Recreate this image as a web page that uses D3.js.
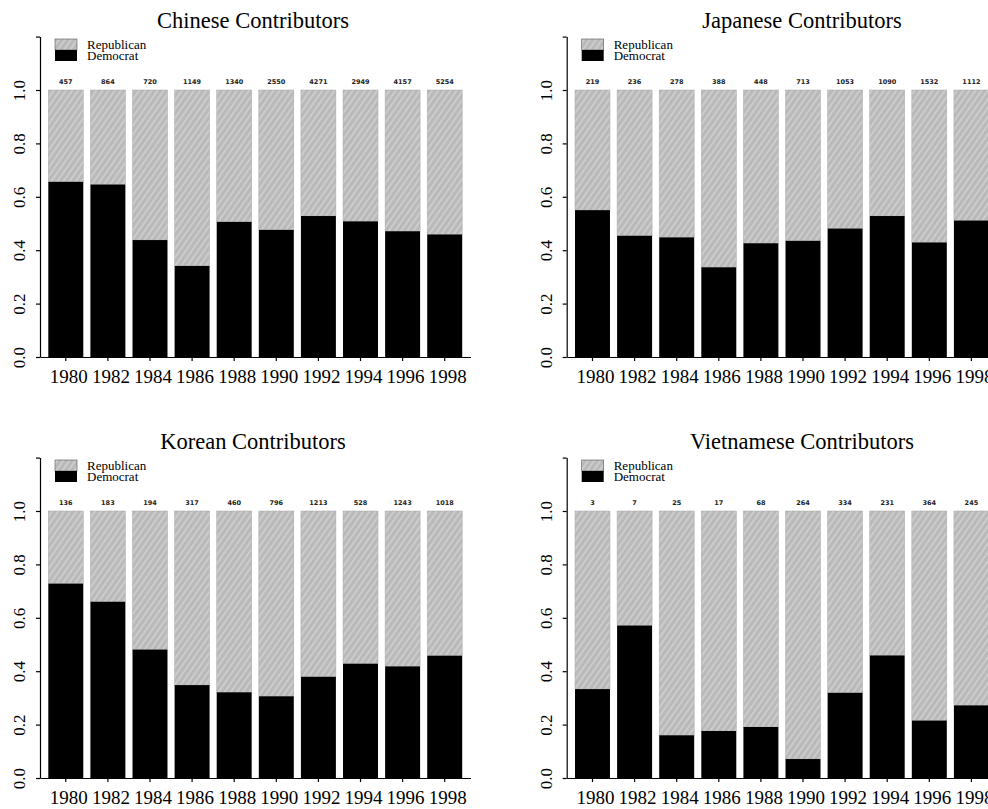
<!DOCTYPE html>
<html>
<head>
<meta charset="utf-8">
<script src="https://cdn.jsdelivr.net/npm/d3@7"></script>
<style>
  body { margin: 0; background: #fff; }
  svg { display: block; }
</style>
</head>
<body>
<div id="chart"></div>
<script>
const years = [1980, 1982, 1984, 1986, 1988, 1990, 1992, 1994, 1996, 1998];

// share of contributions going to Democrats
const chineseDem = [0.656, 0.646, 0.438, 0.341, 0.506, 0.476, 0.528, 0.508, 0.471, 0.459];
const japaneseDem = [0.550, 0.454, 0.448, 0.336, 0.426, 0.435, 0.481, 0.528, 0.429, 0.511];
const koreanDem = [0.728, 0.660, 0.481, 0.348, 0.321, 0.306, 0.379, 0.428, 0.418, 0.458];
const vietnameseDem = [0.333, 0.571, 0.160, 0.176, 0.191, 0.071, 0.319, 0.459, 0.215, 0.272];

// number of contributors printed over each bar
const chineseN = [457, 864, 720, 1149, 1340, 2550, 4271, 2949, 4157, 5254];
const japaneseN = [219, 236, 278, 388, 448, 713, 1053, 1090, 1532, 1112];
const koreanN = [136, 183, 194, 317, 460, 796, 1213, 528, 1243, 1018];
const vietnameseN = [3, 7, 25, 17, 68, 264, 334, 231, 364, 245];

const titles = ["Chinese Contributors", "Japanese Contributors", "Korean Contributors", "Vietnamese Contributors"];
const legendLabels = ["Republican", "Democrat"];
const yTicks = [0, 0.2, 0.4, 0.6, 0.8, 1.0, 1.2];

const panels = [
    {title: titles[0], dem: chineseDem, n: chineseN, x0: 40, y0: 357, tx: 253},
    {title: titles[1], dem: japaneseDem, n: japaneseN, x0: 566.7, y0: 357, tx: 802},
    {title: titles[2], dem: koreanDem, n: koreanN, x0: 40, y0: 778, tx: 253},
    {title: titles[3], dem: vietnameseDem, n: vietnameseN, x0: 566.7, y0: 778, tx: 802}
];

const serif = "'Liberation Serif', 'Times New Roman', serif";

const svg = d3.select("#chart")
    .append("svg")
    .attr("width", 988)
    .attr("height", 809);

// grey hatched fill for the republican part
const defs = svg.append("defs");
const pat = defs.append("pattern")
    .attr("id", "hatch")
    .attr("patternUnits", "userSpaceOnUse")
    .attr("width", 5)
    .attr("height", 5)
    .attr("patternTransform", "rotate(35)");
pat.append("rect").attr("width", 5).attr("height", 5).attr("fill", "#b9b9b9");
pat.append("line")
    .attr("x1", 1).attr("y1", 0).attr("x2", 1).attr("y2", 5)
    .attr("stroke", "#d6d6d6").attr("stroke-width", 1.3);

panels.forEach(p => {
    const g = svg.append("g");

    const x = d3.scaleBand()
        .domain(years)
        .range([p.x0, p.x0 + 430.5])
        .paddingInner(0.169)
        .paddingOuter(0.197);

    const y = d3.scaleLinear()
        .domain([0, 1.2])
        .range([p.y0, p.y0 - 1.2 * 267]);

    const rows = years.map((yr, i) => ({year: yr, dem: p.dem[i], n: p.n[i]}));

    // republican (rest of the bar up to 1.0)
    g.selectAll(".rep")
        .data(rows)
        .enter()
        .append("rect")
        .attr("x", d => x(d.year))
        .attr("width", x.bandwidth())
        .attr("y", y(1))
        .attr("height", d => y(d.dem) - y(1))
        .attr("fill", "url(#hatch)")
        .attr("stroke", "#a8a8a8")
        .attr("stroke-width", 0.5);

    // democrat
    g.selectAll(".dem")
        .data(rows)
        .enter()
        .append("rect")
        .attr("x", d => x(d.year))
        .attr("width", x.bandwidth())
        .attr("y", d => y(d.dem))
        .attr("height", d => y(0) - y(d.dem))
        .attr("fill", "#000");

    // counts
    g.selectAll(".cnt")
        .data(rows)
        .enter()
        .append("text")
        .attr("x", d => x(d.year) + x.bandwidth() / 2)
        .attr("y", y(1) - 6)
        .attr("text-anchor", "middle")
        .attr("font-family", "'DejaVu Sans', sans-serif")
        .attr("font-size", 6.5)
        .attr("font-weight", "bold")
        .attr("fill", "#222")
        .text(d => d.n);

    // axes
    const yAxis = g.append("g")
        .attr("transform", `translate(${p.x0},0)`)
        .call(d3.axisLeft(y)
            .tickValues(yTicks)
            .tickSize(4)
            .tickSizeOuter(0)
            .tickFormat(d => d > 1.05 ? "" : d3.format(".1f")(d)));
    yAxis.selectAll("text")
        .attr("transform", "rotate(-90)")
        .attr("x", 0)
        .attr("y", -15)
        .attr("dy", 0)
        .attr("text-anchor", "middle")
        .attr("font-family", serif)
        .attr("font-size", 17)
        .attr("fill", "#000");

    const xAxis = g.append("g")
        .attr("transform", `translate(0,${p.y0})`)
        .call(d3.axisBottom(x).tickSize(4).tickSizeOuter(0).tickPadding(9));
    xAxis.selectAll("text")
        .attr("font-family", serif)
        .attr("font-size", 19)
        .attr("dx", 3)
        .attr("fill", "#000");

    g.selectAll(".domain, .tick line").attr("stroke", "#000").attr("stroke-width", 1.2);

    // title
    g.append("text")
        .attr("x", p.tx)
        .attr("y", y(1) - 62)
        .attr("text-anchor", "middle")
        .attr("font-family", serif)
        .attr("font-size", 22.5)
        .attr("fill", "#000")
        .text(p.title);

    // legend
    const lx = p.x0 + 15, ly = y(1) - 51;
    g.append("rect").attr("x", lx).attr("y", ly).attr("width", 22).attr("height", 11)
        .attr("fill", "url(#hatch)").attr("stroke", "#555").attr("stroke-width", 0.6);
    g.append("rect").attr("x", lx).attr("y", ly + 11).attr("width", 22).attr("height", 11)
        .attr("fill", "#000");
    legendLabels.forEach((lab, i) => {
        g.append("text")
            .attr("x", lx + 32)
            .attr("y", ly + 9.5 + i * 11)
            .attr("font-family", serif)
            .attr("font-size", 13)
            .attr("fill", "#000")
            .text(lab);
    });
});
</script>
</body>
</html>
